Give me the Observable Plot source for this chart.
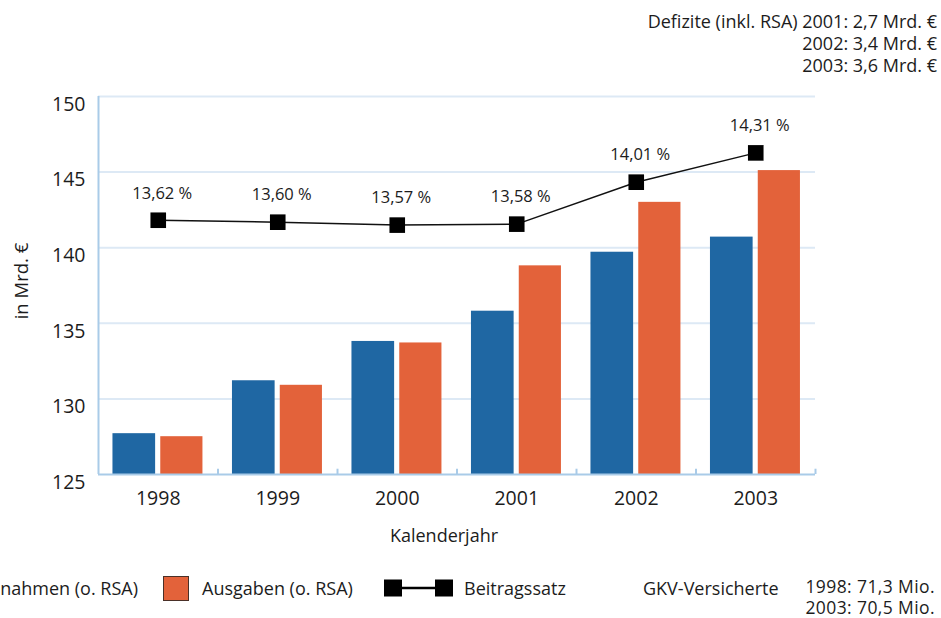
<!DOCTYPE html>
<html lang="de">
<head>
<meta charset="utf-8">
<title>GKV Einnahmen und Ausgaben 1998–2003</title>
<script src="https://cdn.jsdelivr.net/npm/d3@7"></script>
<script src="https://cdn.jsdelivr.net/npm/@observablehq/plot@0.6"></script>
<style>
  html, body { margin: 0; padding: 0; background: #fff; }
  body {
    position: relative; width: 941px; height: 618px; overflow: hidden;
    font-family: "Open Sans", "Noto Sans", sans-serif; color: #1c1c1c;
  }
  #chart { position: absolute; left: 0; top: 0; }
  .note { position: absolute; font-size: 18px; line-height: 22px; white-space: nowrap; }
  .ytitle {
    position: absolute; left: 20px; top: 281px; font-size: 18.5px;
    transform: translate(-50%, -50%) rotate(-90deg); white-space: nowrap;
  }
  .xtitle { position: absolute; left: 444px; top: 535px; font-size: 18px; transform: translate(-50%, -50%); white-space: nowrap; }
  .legend-item { position: absolute; top: 576px; height: 24px; display: flex; align-items: center; font-size: 18px; white-space: nowrap; }
  .swatch { width: 24px; height: 23px; border: 1.5px solid #4a3028; box-sizing: content-box; }
</style>
</head>
<body>
<div id="chart"></div>
<script>
// Jahre und Finanzdaten der GKV (ohne Risikostrukturausgleich), in Mrd. €
const years = [1998, 1999, 2000, 2001, 2002, 2003];
const einnahmen = [127.7, 131.2, 133.8, 135.8, 139.7, 140.7];
const ausgaben = [127.5, 130.9, 133.7, 138.8, 143.0, 145.1];
// durchschnittlicher Beitragssatz in %
const beitragssatz = [13.62, 13.60, 13.57, 13.58, 14.01, 14.31];
// y-Achse
const yTicks = [125, 130, 135, 140, 145, 150];
// Zusatzangaben
const defizitJahre = [2001, 2002, 2003];
const defizite = ["2,7", "3,4", "3,6"];
const versichertenJahre = [1998, 2003];
const versicherte = ["71,3", "70,5"];

const blue = "#1f67a3";
const orange = "#e3623a";
const grid = "#dde9f5";
const axisBlue = "#a9cbe8";

const bars = years.flatMap((year, i) => [
  {year, serie: "Einnahmen", value: einnahmen[i], x1: year - 0.379, x2: year - 0.022},
  {year, serie: "Ausgaben", value: ausgaben[i], x1: year + 0.021, x2: year + 0.374}
]);
const rates = years.map((year, i) => ({year, rate: beitragssatz[i]}));

// der Beitragssatz wird linear auf die Achse in Mrd. € abgebildet
const rateScale = r => 142.86 + 6.455 * (r - 13.7817);
const fmtRate = r => r.toFixed(2).replace(".", ",") + " %";

const boundaries = years.map(y => y + 0.5);

const chart = Plot.plot({
  width: 941,
  height: 560,
  marginLeft: 98,
  marginRight: 126,
  marginTop: 96,
  marginBottom: 86,
  x: {type: "linear", domain: [years[0] - 0.5, years[years.length - 1] + 0.5], label: null},
  y: {domain: [125, 150], label: null},
  style: {fontFamily: "Open Sans, Noto Sans, sans-serif", color: "#1c1c1c", background: "transparent"},
  marks: [
    Plot.ruleY(yTicks.slice(1), {stroke: grid, strokeWidth: 2}),
    Plot.rectY(bars, {
      x1: "x1", x2: "x2", y1: 125, y2: "value",
      fill: d => d.serie === "Einnahmen" ? blue : orange
    }),
    Plot.ruleY([125], {stroke: axisBlue, strokeWidth: 2}),
    Plot.ruleX([years[0] - 0.5], {stroke: axisBlue, strokeWidth: 2}),
    Plot.ruleX(boundaries, {y1: 125, y2: 125.35, stroke: axisBlue, strokeWidth: 2}),
    Plot.line(rates, {x: "year", y: d => rateScale(d.rate), stroke: "#111", strokeWidth: 1.5}),
    Plot.dot(rates, {x: "year", y: d => rateScale(d.rate), symbol: "square", r: 8.8, fill: "#000", stroke: "none"}),
    Plot.text(rates, {x: "year", y: d => rateScale(d.rate), text: d => fmtRate(d.rate), dy: -27, dx: 4, fontSize: 16.5, fill: "#1c1c1c"}),
    Plot.axisY({ticks: yTicks, tickSize: 0, tickPadding: 13, dy: 8, fontSize: 19.5, tickFormat: d => String(d), label: null}),
    Plot.axisX({ticks: years, tickSize: 0, tickPadding: 17, fontSize: 19.5, tickFormat: d => String(d), label: null})
  ]
});
document.getElementById("chart").append(chart);

// Beschriftungen und Legende
const body = document.body;
function addDiv(cls, html, style) {
  const el = document.createElement("div");
  el.className = cls;
  el.innerHTML = html;
  Object.assign(el.style, style || {});
  body.append(el);
  return el;
}

addDiv("ytitle", "in Mrd. €");
addDiv("xtitle", "Kalenderjahr");

const defizitLines = defizitJahre.map((j, i) =>
  (i === 0 ? "Defizite (inkl. RSA) " : "") + `${j}: ${defizite[i]} Mrd. €`);
addDiv("note", defizitLines.join("<br>"), {right: "4px", top: "10px", textAlign: "right"});

addDiv("legend-item",
  `<div class="swatch" style="background:${blue}"></div><span style="margin-left:14px">Einnahmen (o. RSA)</span>`,
  {right: "803px"});
addDiv("legend-item",
  `<div class="swatch" style="background:${orange}"></div><span style="margin-left:13px">Ausgaben (o. RSA)</span>`,
  {left: "163px"});
addDiv("legend-item",
  `<svg width="70" height="20" style="display:block">
     <rect x="0" y="1.5" width="18" height="17" fill="#000"></rect>
     <line x1="18" x2="51" y1="10" y2="10" stroke="#000" stroke-width="2.5"></line>
     <rect x="51" y="1.5" width="18" height="17" fill="#000"></rect>
   </svg><span style="margin-left:10px">Beitragssatz</span>`,
  {left: "384px"});
addDiv("legend-item", "GKV-Versicherte", {left: "643px"});

const versLines = versichertenJahre.map((j, i) => `${j}: ${versicherte[i]} Mio.`);
addDiv("note", versLines.join("<br>"), {right: "6px", top: "576px", textAlign: "right", lineHeight: "21px", fontSize: "17.5px", letterSpacing: "0.4px"});
</script>
</body>
</html>
